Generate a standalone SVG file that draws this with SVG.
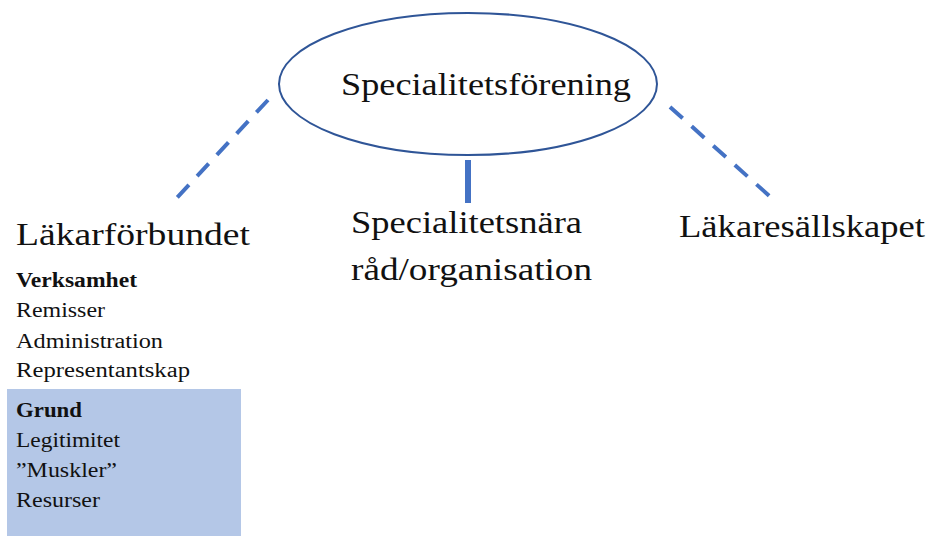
<svg xmlns="http://www.w3.org/2000/svg" width="930" height="536" viewBox="0 0 930 536">
<style>
text{font-family:'Liberation Serif','DejaVu Serif','Noto Serif',serif;fill:#111;}
.big{font-size:32px;}
.sm{font-size:20px;}
.b{font-weight:bold;}
.dash{stroke:#4472C4;stroke-width:4;stroke-dasharray:17,12;fill:none;}
</style>
<rect width="930" height="536" fill="#fff"/>
<g id="connectors">
<line class="dash" x1="268" y1="100" x2="172" y2="203"/>
<line class="dash" x1="670" y1="107" x2="775" y2="201"/>
<line x1="468" y1="160" x2="468" y2="203" stroke="#4472C4" stroke-width="6"/>
</g>
<g id="specialitetsforening" font-family="Liberation Serif, serif">
<ellipse cx="468" cy="84" rx="189" ry="71" fill="none" stroke="#2F5597" stroke-width="2"/>
<text class="big" x="341" y="95" textLength="290" lengthAdjust="spacingAndGlyphs">Specialitetsförening</text>
</g>
<g id="lakarforbundet">
<text class="big" x="16" y="245" textLength="234" lengthAdjust="spacingAndGlyphs">Läkarförbundet</text>
<text class="sm b" x="16" y="287" textLength="121" lengthAdjust="spacingAndGlyphs">Verksamhet</text>
<text class="sm" x="16" y="317" textLength="89" lengthAdjust="spacingAndGlyphs">Remisser</text>
<text class="sm" x="16" y="348" textLength="147" lengthAdjust="spacingAndGlyphs">Administration</text>
<text class="sm" x="16" y="377" textLength="174" lengthAdjust="spacingAndGlyphs">Representantskap</text>
</g>
<g id="grund">
<rect x="7" y="389" width="234" height="147" fill="#B4C7E7"/>
<text class="sm b" x="16" y="417" textLength="66" lengthAdjust="spacingAndGlyphs">Grund</text>
<text class="sm" x="16" y="447" textLength="104" lengthAdjust="spacingAndGlyphs">Legitimitet</text>
<text class="sm" x="16" y="477" textLength="101" lengthAdjust="spacingAndGlyphs">”Muskler”</text>
<text class="sm" x="16" y="507" textLength="84" lengthAdjust="spacingAndGlyphs">Resurser</text>
</g>
<g id="specialitetsnara">
<text class="big" x="351" y="233" textLength="231" lengthAdjust="spacingAndGlyphs">Specialitetsnära</text>
<text class="big" x="351" y="280" textLength="241" lengthAdjust="spacingAndGlyphs">råd/organisation</text>
</g>
<g id="lakaresallskapet">
<text class="big" x="679" y="237" textLength="246" lengthAdjust="spacingAndGlyphs">Läkaresällskapet</text>
</g>
</svg>
